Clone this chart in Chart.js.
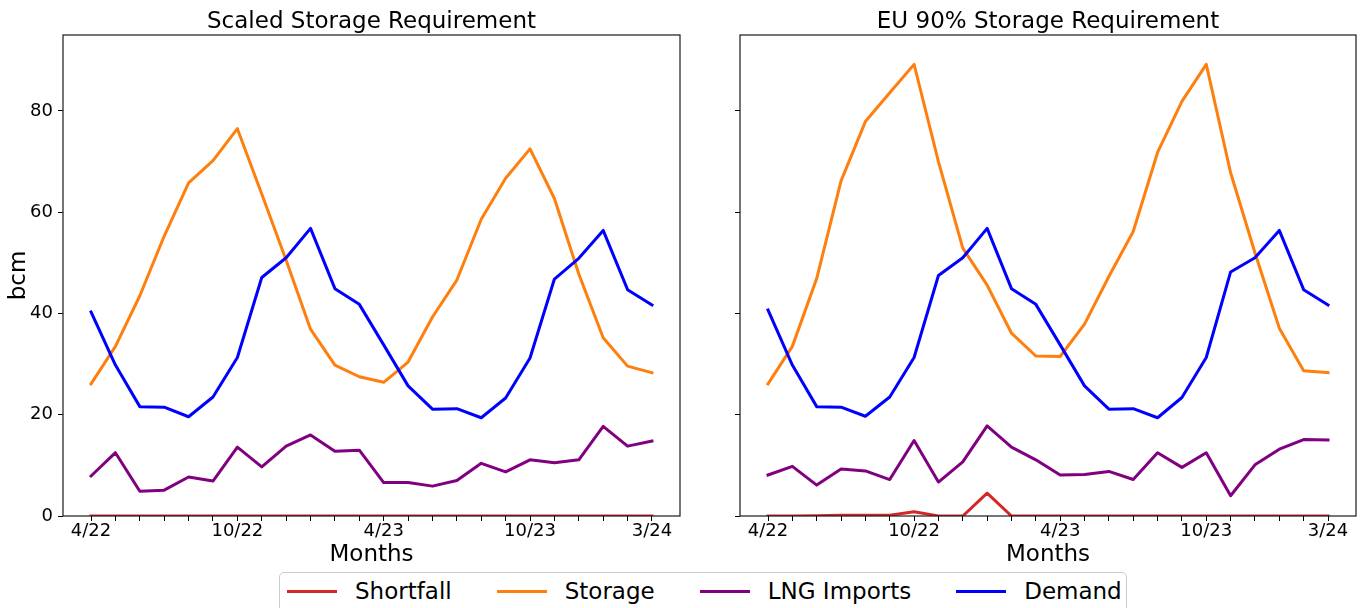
<!DOCTYPE html>
<html>
<head>
<meta charset="utf-8">
<script src="https://cdn.jsdelivr.net/npm/chart.js@4.4.1/dist/chart.umd.min.js"></script>
<style>
  html, body { margin: 0; padding: 0; background: #fff; overflow: hidden; }
  body { width: 1369px; height: 608px; position: relative; font-family: 'DejaVu Sans', sans-serif; }
  #left-chart { position: absolute; left: 0; top: 0; }
  #right-chart { position: absolute; left: 690px; top: 0; }
  #legend {
    position: absolute; left: 279px; top: 572px; width: 848px; height: 50px;
    border: 1px solid #cccccc; border-radius: 5px; background: #fff;
    display: flex; align-items: flex-start; padding-left: 7px; box-sizing: border-box;
  }
  .item { display: flex; align-items: center; height: 36px; margin-right: 45px; }
  .swatch { width: 50px; height: 3px; margin-right: 18px; }
  .item span { font-size: 23px; color: #000; white-space: nowrap; }
</style>
</head>
<body>
<canvas id="left-chart" width="690" height="570"></canvas>
<canvas id="right-chart" width="679" height="570"></canvas>
<div id="legend"></div>
<script>
const months = ['4/22', '5/22', '6/22', '7/22', '8/22', '9/22', '10/22', '11/22', '12/22', '1/23', '2/23', '3/23',
  '4/23', '5/23', '6/23', '7/23', '8/23', '9/23', '10/23', '11/23', '12/23', '1/24', '2/24', '3/24'];
const shownMonths = ['4/22', '10/22', '4/23', '10/23', '3/24'];
const yTicks = [0, 20, 40, 60, 80];

const seriesNames = ['Shortfall', 'Storage', 'LNG Imports', 'Demand'];
const seriesColors = ['#d62728', '#ff7f0e', '#800080', '#0000ff'];

// Scaled Storage Requirement
const shortfallScaled = [0, 0, 0, 0, 0, 0, 0, 0, 0, 0, 0, 0, 0, 0, 0, 0, 0, 0, 0, 0, 0, 0, 0, 0];
const storageScaled = [26.1, 33.5, 43.5, 55.3, 65.8, 70.2, 76.5, 63.6, 50.5, 36.9, 29.8, 27.5,
  26.4, 30.4, 39.3, 46.6, 58.6, 66.7, 72.5, 62.7, 47.8, 35.2, 29.6, 28.3];
const lngScaled = [7.9, 12.5, 4.9, 5.1, 7.7, 6.9, 13.6, 9.7, 13.8, 16.0, 12.8, 13.0,
  6.6, 6.6, 5.9, 7.0, 10.4, 8.7, 11.1, 10.5, 11.1, 17.7, 13.8, 14.8];
const demandScaled = [40.3, 29.8, 21.6, 21.5, 19.6, 23.5, 31.3, 47.1, 51.0, 56.8, 44.9, 41.8,
  33.8, 25.7, 21.1, 21.2, 19.4, 23.3, 31.2, 46.8, 50.9, 56.4, 44.7, 41.7];

// EU 90% Storage Requirement
const shortfallEu = [0, 0, 0.05, 0.15, 0.15, 0.15, 0.85, 0, 0, 4.5, 0, 0,
  0, 0, 0, 0, 0, 0, 0, 0, 0, 0, 0, 0];
const storageEu = [26.1, 33.5, 46.9, 66.2, 77.9, 83.6, 89.2, 70.0, 52.9, 45.6, 36.1, 31.6,
  31.5, 37.9, 47.3, 56.2, 71.8, 81.9, 89.2, 67.8, 52.0, 37.1, 28.7, 28.3];
const lngEu = [8.1, 9.8, 6.1, 9.3, 8.9, 7.2, 14.9, 6.7, 10.7, 17.8, 13.6, 11.1,
  8.1, 8.2, 8.8, 7.2, 12.5, 9.6, 12.5, 4.0, 10.1, 13.2, 15.1, 15.0];
const demandEu = [40.7, 29.8, 21.6, 21.5, 19.7, 23.5, 31.3, 47.5, 51.0, 56.8, 44.9, 41.8,
  33.8, 25.7, 21.1, 21.2, 19.4, 23.4, 31.3, 48.2, 51.0, 56.4, 44.7, 41.7];

const FONT = 'DejaVu Sans';
Chart.defaults.color = '#000';
Chart.defaults.font.family = FONT;

// matplotlib-style box round the axes
const framePlugin = {
  id: 'frame',
  afterDatasetsDraw(chart) {
    const { ctx, chartArea: a } = chart;
    ctx.save();
    ctx.strokeStyle = '#1a1a1a';
    ctx.lineWidth = 1.2;
    ctx.strokeRect(a.left, a.top, a.right - a.left, a.bottom - a.top);
    ctx.restore();
  },
};

function makeChart(id, title, values, yAxisWidth, rightPad, showYLabels) {
  const datasets = values.map((vals, k) => ({
    label: seriesNames[k],
    data: vals.map((v, i) => ({ x: i, y: v })),
    borderColor: seriesColors[k],
    backgroundColor: seriesColors[k],
    borderWidth: 3,
    pointRadius: 0,
    tension: 0,
    borderJoinStyle: 'round',
    borderCapStyle: 'square',
    order: seriesNames.length - k,
  }));

  return new Chart(document.getElementById(id), {
    type: 'line',
    data: { datasets },
    plugins: [framePlugin],
    options: {
      responsive: false,
      animation: false,
      layout: { padding: { left: 0, right: rightPad, top: 0, bottom: 0 } },
      plugins: {
        legend: { display: false },
        tooltip: { enabled: false },
        title: {
          display: true,
          text: title,
          fullSize: false,
          color: '#000',
          font: { size: 23, weight: 'normal', lineHeight: 1.13 },
          padding: { top: 9, bottom: 0 },
        },
      },
      scales: {
        x: {
          type: 'linear',
          min: -1.15,
          max: 24.15,
          afterBuildTicks: (s) => { s.ticks = months.map((m, i) => ({ value: i })); },
          afterFit: (s) => { s.height = 54; },
          ticks: {
            autoSkip: false,
            maxRotation: 0,
            padding: 0,
            font: { size: 18 },
            color: '#000',
            callback: (v) => (shownMonths.includes(months[v]) ? months[v] : ''),
          },
          grid: { drawOnChartArea: false, drawTicks: true, tickLength: 5, tickColor: '#000', tickWidth: 1 },
          border: { display: false },
          title: {
            display: true,
            text: 'Months',
            color: '#000',
            font: { size: 23 },
            padding: { top: 0, bottom: 1 },
          },
        },
        y: {
          min: 0,
          max: 95,
          afterBuildTicks: (s) => { s.ticks = yTicks.map((v) => ({ value: v })); },
          afterFit: (s) => { s.width = yAxisWidth; },
          ticks: {
            padding: 5,
            font: { size: 18 },
            color: '#000',
            callback: (v) => (showYLabels ? String(v) : ''),
          },
          grid: { drawOnChartArea: false, drawTicks: true, tickLength: 5, tickColor: '#000', tickWidth: 1 },
          border: { display: false },
          title: {
            display: showYLabels,
            text: 'bcm',
            color: '#000',
            font: { size: 23 },
            padding: { top: 5, bottom: 0 },
          },
        },
      },
    },
  });
}

makeChart('left-chart', 'Scaled Storage Requirement',
  [shortfallScaled, storageScaled, lngScaled, demandScaled], 63, 10, true);
makeChart('right-chart', 'EU 90% Storage Requirement',
  [shortfallEu, storageEu, lngEu, demandEu], 50, 13, false);

// legend below both panels
const legend = document.getElementById('legend');
seriesNames.forEach((name, k) => {
  const item = document.createElement('div');
  item.className = 'item';
  const sw = document.createElement('div');
  sw.className = 'swatch';
  sw.style.background = seriesColors[k];
  const label = document.createElement('span');
  label.textContent = name;
  item.appendChild(sw);
  item.appendChild(label);
  legend.appendChild(item);
});
</script>
</body>
</html>
